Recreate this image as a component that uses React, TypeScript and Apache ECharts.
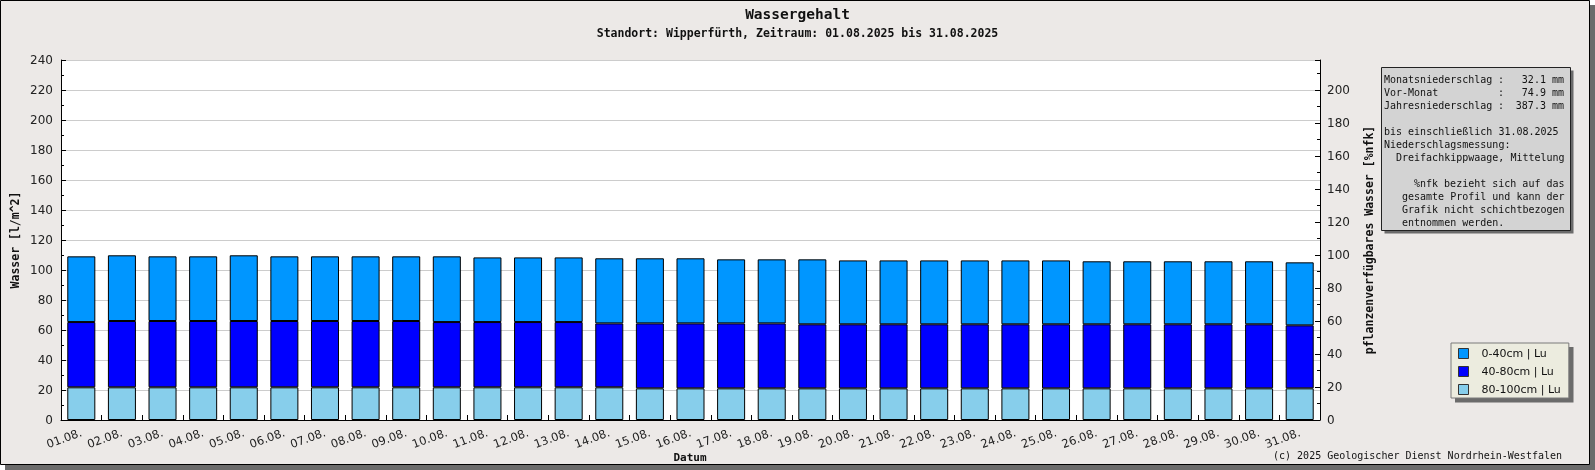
import React, { useEffect, useRef } from "react";
import * as echarts from "echarts";

// ---- data -------------------------------------------------------------
const dates = [
  "01.08.", "02.08.", "03.08.", "04.08.", "05.08.", "06.08.", "07.08.", "08.08.",
  "09.08.", "10.08.", "11.08.", "12.08.", "13.08.", "14.08.", "15.08.", "16.08.",
  "17.08.", "18.08.", "19.08.", "20.08.", "21.08.", "22.08.", "23.08.", "24.08.",
  "25.08.", "26.08.", "27.08.", "28.08.", "29.08.", "30.08.", "31.08.",
];

const seriesNames = ["0-40cm | Lu", "40-80cm | Lu", "80-100cm | Lu"];

// layer thickness in l/m^2
const layer0to40 = [
  43.8, 43.8, 43.1, 43.1, 43.8, 43.1, 43.1, 43.1, 43.1, 43.8, 43.1, 43.1, 43.1,
  43.4, 43.4, 43.4, 42.7, 42.7, 43.3, 42.6, 42.6, 42.6, 42.6, 42.6, 42.6,
  42.0, 42.0, 42.0, 42.0, 42.0, 42.0,
];
const layer40to80 = [
  43.5, 44.2, 44.2, 44.2, 44.2, 44.2, 44.2, 44.2, 44.2, 43.5, 43.5, 43.5, 43.5,
  42.6, 43.3, 43.3, 43.3, 43.3, 42.7, 42.7, 42.7, 42.7, 42.7, 42.7, 42.7,
  42.7, 42.7, 42.7, 42.7, 42.7, 42.0,
];
const layer80to100 = [
  21.8, 21.8, 21.8, 21.8, 21.8, 21.8, 21.8, 21.8, 21.8, 21.8, 21.8, 21.8, 21.8,
  21.8, 21.1, 21.1, 21.1, 21.1, 21.1, 21.1, 21.1, 21.1, 21.1, 21.1, 21.1,
  21.1, 21.1, 21.1, 21.1, 21.1, 21.1,
];

// left axis (l/m^2)
const leftMin = 0;
const leftMax = 240;
const leftInterval = 20;
// 100 %nfk corresponds to this many l/m^2
const nfk100 = 110;
const rightInterval = 20;

const titleText = "Wassergehalt";
const subtitleText = "Standort: Wipperfürth, Zeitraum: 01.08.2025 bis 31.08.2025";
const leftAxisTitle = "Wasser [l/m^2]";
const rightAxisTitle = "pflanzenverfügbares Wasser [%nfk]";
const xAxisTitle = "Datum";
const footerText = "(c) 2025 Geologischer Dienst Nordrhein-Westfalen";

const infoStats = [
  { label: "Monatsniederschlag", value: "32.1 mm" },
  { label: "Vor-Monat", value: "74.9 mm" },
  { label: "Jahresniederschlag", value: "387.3 mm" },
];
// [line index, indent in characters, text]
const infoNotes: [number, number, string][] = [
  [4, 0, "bis einschließlich 31.08.2025"],
  [5, 0, "Niederschlagsmessung:"],
  [6, 2, "Dreifachkippwaage, Mittelung"],
  [8, 5, "%nfk bezieht sich auf das"],
  [9, 3, "gesamte Profil und kann der"],
  [10, 3, "Grafik nicht schichtbezogen"],
  [11, 3, "entnommen werden."],
];

const colors = ["#0096ff", "#0000ff", "#87ceeb"];

// ---- component ---------------------------------------------------------
export default function App() {
  const ref = useRef<HTMLDivElement>(null);

  useEffect(() => {
    if (!ref.current) return;
    const chart = echarts.init(ref.current, undefined, { renderer: "svg" });

    const mono = "DejaVu Sans Mono";
    const sans = "DejaVu Sans";

    const boxX = 1381.5;
    const boxY = 67.5;
    const boxW = 189;
    const boxH = 163;
    const tx = 1384;
    const cw = 6.0;
    const ty0 = 79.5;
    const lh = 13;

    const infoTexts: any[] = [];
    infoStats.forEach((s, i) => {
      const y = ty0 + i * lh;
      infoTexts.push({
        type: "text", x: tx, y, z: 21,
        style: { text: s.label, fontFamily: mono, fontSize: 10, fill: "#111", align: "left", verticalAlign: "middle", textAlign: "left", textVerticalAlign: "middle" },
      });
      infoTexts.push({
        type: "text", x: tx + 19 * cw, y, z: 21,
        style: { text: ":", fontFamily: mono, fontSize: 10, fill: "#111", align: "left", verticalAlign: "middle", textAlign: "left", textVerticalAlign: "middle" },
      });
      infoTexts.push({
        type: "text", x: tx + 30 * cw, y, z: 21,
        style: { text: s.value, fontFamily: mono, fontSize: 10, fill: "#111", align: "right", verticalAlign: "middle", textAlign: "right", textVerticalAlign: "middle" },
      });
    });
    infoNotes.forEach(([line, indent, text]) => {
      infoTexts.push({
        type: "text", x: tx + indent * cw, y: ty0 + line * lh, z: 21,
        style: { text, fontFamily: mono, fontSize: 10, fill: "#111", align: "left", verticalAlign: "middle", textAlign: "left", textVerticalAlign: "middle" },
      });
    });

    const barData = [layer0to40, layer40to80, layer80to100];
    // stack from the bottom: 80-100, 40-80, 0-40
    const order = [2, 1, 0];

    chart.setOption({
      animation: false,
      backgroundColor: "transparent",
      title: [
        {
          text: titleText, left: "center", top: 6, padding: 0,
          textStyle: { fontFamily: mono, fontSize: 14.5, fontWeight: "bold", color: "#111" },
        },
        {
          text: subtitleText, left: "center", top: 27, padding: 0,
          textStyle: { fontFamily: mono, fontSize: 11.5, fontWeight: "bold", color: "#111" },
        },
      ],
      legend: {
        orient: "vertical",
        left: 1451,
        top: 343,
        padding: [5, 8, 3, 7],
        itemWidth: 10,
        itemHeight: 10,
        itemGap: 7,
        icon: "rect",
        selectedMode: false,
        backgroundColor: "#ececdf",
        borderColor: "#7a7a7a",
        borderWidth: 1,
        z: 20,
        itemStyle: { borderColor: "#333", borderWidth: 1 },
        textStyle: { fontFamily: sans, fontSize: 11, color: "#111", padding: [0, 0, 0, 8] },
        data: seriesNames,
      },
      grid: {
        left: 61, right: 275, top: 60, bottom: 50,
        show: true, backgroundColor: "#ffffff", borderWidth: 0,
      },
      xAxis: {
        type: "category",
        data: dates,
        axisLine: { show: true, lineStyle: { color: "#000", width: 1 } },
        axisTick: { show: true, inside: true, length: 5, interval: 0, lineStyle: { color: "#000" } },
        axisLabel: { interval: 0, rotate: 20, margin: 12, fontFamily: sans, fontSize: 11.5, color: "#222" },
        splitLine: { show: false },
      },
      yAxis: [
        {
          type: "value",
          position: "left",
          min: leftMin,
          max: leftMax,
          interval: leftInterval,
          axisLine: { show: true, lineStyle: { color: "#000", width: 1 } },
          axisTick: { show: true, inside: true, length: 5, lineStyle: { color: "#000" } },
          minorTick: { show: true, splitNumber: 2, length: 3, lineStyle: { color: "#000" } },
          splitLine: { show: true, lineStyle: { color: "#cccccc", width: 1 } },
          axisLabel: { margin: 8, fontFamily: sans, fontSize: 12, color: "#222" },
        },
        {
          type: "value",
          position: "right",
          min: 0,
          max: (leftMax / nfk100) * 100,
          interval: rightInterval,
          axisLine: { show: true, lineStyle: { color: "#000", width: 1 } },
          axisTick: { show: true, inside: true, length: 5, lineStyle: { color: "#000" } },
          minorTick: { show: true, splitNumber: 2, length: 3, lineStyle: { color: "#000" } },
          splitLine: { show: false },
          axisLabel: { margin: 7, fontFamily: sans, fontSize: 12, color: "#222", showMaxLabel: false },
        },
      ],
      series: order.map((i) => ({
        name: seriesNames[i],
        type: "bar",
        stack: "wasser",
        yAxisIndex: 0,
        barWidth: "69%",
        data: barData[i],
        itemStyle: { color: colors[i], borderColor: "#000", borderWidth: 1 },
        emphasis: { disabled: true },
      })),
      graphic: [
        // outer frame with shadow
        { type: "rect", z: -20, silent: true, shape: { x: 5, y: 5, width: 1590, height: 465 }, style: { fill: "#6b6b6b" } },
        { type: "rect", z: -19, silent: true, shape: { x: 0.5, y: 0.5, width: 1589, height: 464 }, style: { fill: "#ece9e7", stroke: "#000", lineWidth: 1 } },
        // info box
        { type: "rect", z: 19, silent: true, shape: { x: boxX + 3, y: boxY + 3, width: boxW, height: boxH }, style: { fill: "#6b6b6b" } },
        { type: "rect", z: 20, silent: true, shape: { x: boxX, y: boxY, width: boxW, height: boxH }, style: { fill: "#d3d3d3", stroke: "#222", lineWidth: 1 } },
        ...infoTexts,
        // legend shadow
        { type: "rect", z: 2, silent: true, shape: { x: 1455, y: 347, width: 118.5, height: 55.5 }, style: { fill: "#6b6b6b" } },
        // axis titles
        {
          type: "text", x: 15, y: 240, rotation: Math.PI / 2, z: 5,
          style: { text: leftAxisTitle, fontFamily: mono, fontSize: 11.5, fontWeight: "bold", fill: "#111", align: "center", verticalAlign: "middle", textAlign: "center", textVerticalAlign: "middle" },
        },
        {
          type: "text", x: 1369, y: 240, rotation: Math.PI / 2, z: 5,
          style: { text: rightAxisTitle, fontFamily: mono, fontSize: 11.5, fontWeight: "bold", fill: "#111", align: "center", verticalAlign: "middle", textAlign: "center", textVerticalAlign: "middle" },
        },
        {
          type: "text", x: 690, y: 457, z: 5,
          style: { text: xAxisTitle, fontFamily: mono, fontSize: 11, fontWeight: "bold", fill: "#111", align: "center", verticalAlign: "middle", textAlign: "center", textVerticalAlign: "middle" },
        },
        {
          type: "text", x: 1562, y: 455, z: 5,
          style: { text: footerText, fontFamily: mono, fontSize: 10, fill: "#111", align: "right", verticalAlign: "middle", textAlign: "right", textVerticalAlign: "middle" },
        },
      ],
    });

    return () => {
      chart.dispose();
    };
  }, []);

  return (
    <div
      ref={ref}
      style={{ position: "fixed", left: 0, top: 0, width: 1595, height: 470 }}
    />
  );
}
